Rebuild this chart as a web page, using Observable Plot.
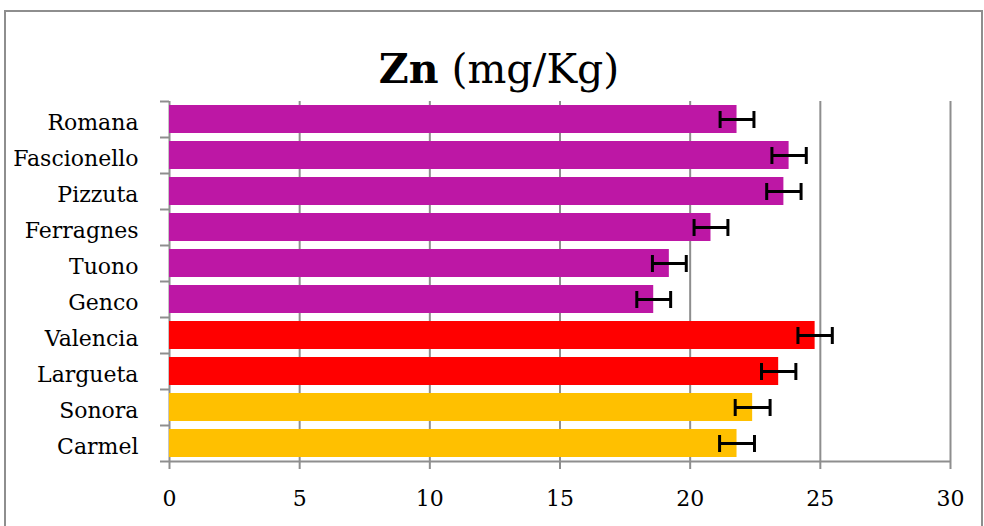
<!DOCTYPE html>
<html>
<head>
<meta charset="utf-8">
<script src="https://cdn.jsdelivr.net/npm/d3@7"></script>
<script src="https://cdn.jsdelivr.net/npm/@observablehq/plot@0.6"></script>
<style>
  html, body { margin: 0; padding: 0; background: #fff; }
  #wrap { position: relative; width: 984px; height: 526px; overflow: hidden; font-family: "DejaVu Serif", serif; }
  #border { position: absolute; left: 4px; top: 10px; width: 979px; height: 600px; border: 2px solid #8e8e8e; box-sizing: border-box; }
  #title { position: absolute; left: 0; top: 0; }
  #chart { position: absolute; left: 0; top: 0; }
</style>
</head>
<body>
<div id="wrap">
  <div id="border"></div>
  <div id="chart"></div>
  <svg id="title" width="984" height="100"><text x="499" y="83" text-anchor="middle" font-family="DejaVu Serif" font-size="41" fill="#000"><tspan font-weight="bold">Zn</tspan> (mg/Kg)</text></svg>
</div>
<script>
const categories = ["Romana","Fascionello","Pizzuta","Ferragnes","Tuono","Genco","Valencia","Largueta","Sonora","Carmel"];
const values = [21.8, 23.8, 23.6, 20.8, 19.2, 18.6, 24.8, 23.4, 22.4, 21.8];
const errors = [0.65, 0.66, 0.66, 0.65, 0.65, 0.65, 0.66, 0.66, 0.67, 0.67];
const groups = ["Italian","Italian","Italian","Italian","Italian","Italian","Spanish","Spanish","American","American"];
const groupNames = ["Italian","Spanish","American"];
const groupColors = ["#BD17A5","#FF0000","#FFC000"];
const xTicks = [0, 5, 10, 15, 20, 25, 30];

const data = categories.map((name, i) => ({name, value: values[i], err: errors[i], group: groups[i]}));
const gray = "#8e8e8e";
const font = "DejaVu Serif";

const plot = Plot.plot({
  width: 984,
  height: 526,
  marginLeft: 169,
  marginRight: 34,
  marginTop: 101,
  marginBottom: 65,
  style: {fontFamily: font, fontSize: "22px", background: "transparent", color: "#000"},
  x: {domain: [0, 30], ticks: xTicks},
  y: {domain: categories, paddingInner: 0.22, paddingOuter: 0.11},
  color: {domain: groupNames, range: groupColors},
  marks: [
    Plot.gridX(xTicks, {stroke: gray, strokeOpacity: 1, strokeWidth: 2}),
    Plot.barX(data, {x: "value", y: "name", fill: "group"}),
    Plot.ruleY([categories[categories.length - 1]], {dy: 18, x1: 0, x2: 30, stroke: gray, strokeWidth: 2}),
    Plot.ruleY(data, {y: "name", x1: d => d.value - d.err, x2: d => d.value + d.err, stroke: "#000", strokeWidth: 3}),
    Plot.tickX(data, {x: d => d.value - d.err, y: "name", stroke: "#000", strokeWidth: 3, insetTop: 6, insetBottom: 5}),
    Plot.tickX(data, {x: d => d.value + d.err, y: "name", stroke: "#000", strokeWidth: 3, insetTop: 6, insetBottom: 5}),
    Plot.axisX(xTicks, {tickSize: 8, tickPadding: 21, stroke: gray, strokeWidth: 2, fill: "#000", fontSize: 22, label: null}),
    Plot.axisY({tickSize: 0, tickPadding: 31, dy: 3, fill: "#000", fontSize: 22, label: null}),
    Plot.axisY({tickSize: 9, text: null, dy: -18, stroke: gray, strokeWidth: 2, label: null}),
    Plot.axisY([categories[categories.length - 1]], {tickSize: 9, text: null, dy: 18, stroke: gray, strokeWidth: 2, label: null})
  ]
});
document.getElementById("chart").appendChild(plot);
</script>
</body>
</html>
